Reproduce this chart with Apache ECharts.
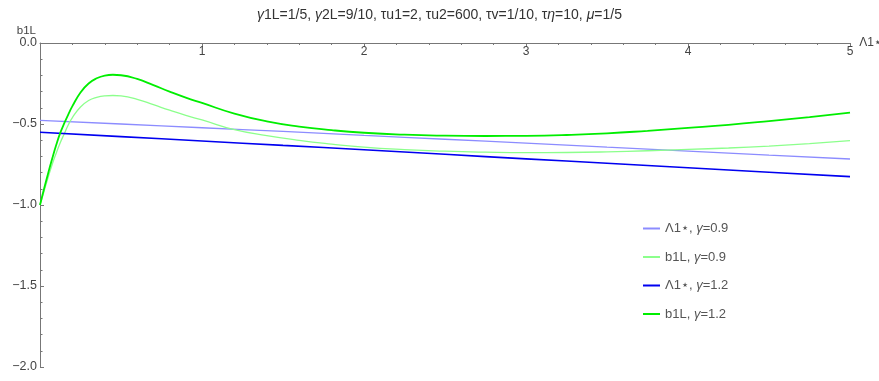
<!DOCTYPE html>
<html><head><meta charset="utf-8">
<script src="https://cdn.jsdelivr.net/npm/echarts@6/dist/echarts.min.js"></script>
<style>html,body{margin:0;padding:0;background:#fff}#c{width:879px;height:381px}</style>
</head><body><div id="c"></div>
<script>
// x grid for the b1L curves
const xCurve = [0,0.025,0.05,0.075,0.1,0.125,0.15,0.175,0.2,0.25,0.3,0.35,0.4,0.45,0.5,0.6,0.7,0.8,0.9,1.0,1.2,1.4,1.6,1.8,2.0,2.25,2.5,2.75,3.0,3.25,3.5,3.75,4.0,4.25,4.5,4.75,5.0];
const b1L_g09 = [-1.0,-0.915,-0.83,-0.75,-0.68,-0.615,-0.56,-0.505,-0.46,-0.395,-0.355,-0.335,-0.326,-0.324,-0.327,-0.348,-0.381,-0.415,-0.447,-0.475,-0.535,-0.572,-0.601,-0.624,-0.643,-0.658,-0.668,-0.674,-0.677,-0.676,-0.672,-0.665,-0.657,-0.648,-0.636,-0.621,-0.603];
const b1L_g12 = [-1.0,-0.90,-0.805,-0.715,-0.63,-0.555,-0.495,-0.44,-0.39,-0.305,-0.25,-0.218,-0.201,-0.196,-0.199,-0.222,-0.26,-0.30,-0.337,-0.37,-0.436,-0.484,-0.516,-0.538,-0.554,-0.566,-0.572,-0.574,-0.573,-0.568,-0.558,-0.542,-0.524,-0.505,-0.482,-0.457,-0.43];
// x grid for the Λ1⋆ lines
const xLine = [0,0.5,1,1.5,2,2.5,3,3.5,4,4.5,5];
const L1_g09 = [-0.478,-0.5,-0.523,-0.546,-0.57,-0.594,-0.618,-0.643,-0.667,-0.692,-0.716];
const L1_g12 = [-0.551,-0.578,-0.605,-0.632,-0.659,-0.687,-0.715,-0.742,-0.77,-0.798,-0.825];
const yTicks = ['0.0','−0.5','−1.0','−1.5','−2.0'];
const xTicks = ['','1','2','3','4','5'];

const zip = (xs, ys) => xs.map((x, i) => [x, ys[i]]);
const FONT = 'Liberation Sans, Arial, sans-serif';
const c1 = '#8c8cff', c2 = '#8cff8c', c3 = '#0000f0', c4 = '#00ee00';

const chart = echarts.init(document.getElementById('c'), null, {renderer: 'canvas'});
const legendRich = {
  n: {fontFamily: FONT, fontSize: 13, color: '#555'},
  g: {fontFamily: FONT, fontSize: 13, color: '#555', fontStyle: 'italic'}
};
chart.setOption({
  animation: false,
  title: {
    text: '{i|γ}1L=1/5, {i|γ}2L=9/10, τu1=2, τu2=600, τv=1/10, τ{i|η}=10, {i|μ}=1/5',
    left: 'center', top: 3,
    textStyle: {
      fontFamily: FONT, fontSize: 14, fontWeight: 'normal', color: '#333',
      rich: {i: {fontFamily: FONT, fontSize: 14, fontStyle: 'italic', color: '#333'}}
    }
  },
  grid: {left: 40, right: 29, top: 43, bottom: 14, containLabel: false, outerBoundsMode: 'none'},
  xAxis: {
    type: 'value', min: 0, max: 5, interval: 1, position: 'top',
    name: 'Λ1⋆', nameLocation: 'end', nameGap: 6,
    nameTextStyle: {fontFamily: FONT, fontSize: 12, color: '#444', verticalAlign: 'middle'},
    axisLine: {onZero: false, lineStyle: {color: '#777', width: 1}},
    axisTick: {inside: true, length: 4, lineStyle: {color: '#777'}},
    minorTick: {show: true, splitNumber: 5, length: 2, lineStyle: {color: '#777'}},
    splitLine: {show: false},
    axisLabel: {
      inside: true,
      fontFamily: FONT, fontSize: 12, color: '#444', margin: 3,
      formatter: v => xTicks[Math.round(v)]
    }
  },
  yAxis: {
    type: 'value', min: -2, max: 0, interval: 0.5,
    name: 'b1L', nameLocation: 'end', nameGap: 4,
    nameTextStyle: {fontFamily: FONT, fontSize: 11.5, color: '#444', align: 'right', padding: [0, 4, 0, 0]},
    axisLine: {show: true, lineStyle: {color: '#777', width: 1}},
    axisTick: {show: true, inside: true, length: 4, lineStyle: {color: '#777'}},
    minorTick: {show: true, splitNumber: 5, length: 2.5, lineStyle: {color: '#777'}},
    splitLine: {show: false},
    axisLabel: {
      fontFamily: FONT, fontSize: 12.5, color: '#444', margin: 3,
      formatter: v => yTicks[Math.round(-v * 2)]
    }
  },
  legend: {
    orient: 'vertical', left: 638, top: 217, itemGap: 15.5,
    itemWidth: 17, itemHeight: 2, icon: 'rect',
    textStyle: {fontFamily: FONT, fontSize: 13, color: '#555', rich: legendRich},
    formatter: name => ({
      'a': 'Λ1⋆, {g|γ}=0.9', 'b': 'b1L, {g|γ}=0.9', 'c': 'Λ1⋆, {g|γ}=1.2', 'd': 'b1L, {g|γ}=1.2'
    })[name],
    data: [
      {name: 'a', itemStyle: {color: c1}},
      {name: 'b', itemStyle: {color: c2}},
      {name: 'c', itemStyle: {color: c3}},
      {name: 'd', itemStyle: {color: c4}}
    ]
  },
  series: [
    {name: 'a', type: 'line', data: zip(xLine, L1_g09), showSymbol: false, smooth: true, color: c1, lineStyle: {width: 1.3, color: c1}},
    {name: 'b', type: 'line', data: zip(xCurve, b1L_g09), showSymbol: false, smooth: true, color: c2, lineStyle: {width: 1.3, color: c2}},
    {name: 'c', type: 'line', data: zip(xLine, L1_g12), showSymbol: false, smooth: true, color: c3, lineStyle: {width: 1.6, color: c3}},
    {name: 'd', type: 'line', data: zip(xCurve, b1L_g12), showSymbol: false, smooth: true, color: c4, lineStyle: {width: 1.8, color: c4}}
  ]
});
</script></body></html>
